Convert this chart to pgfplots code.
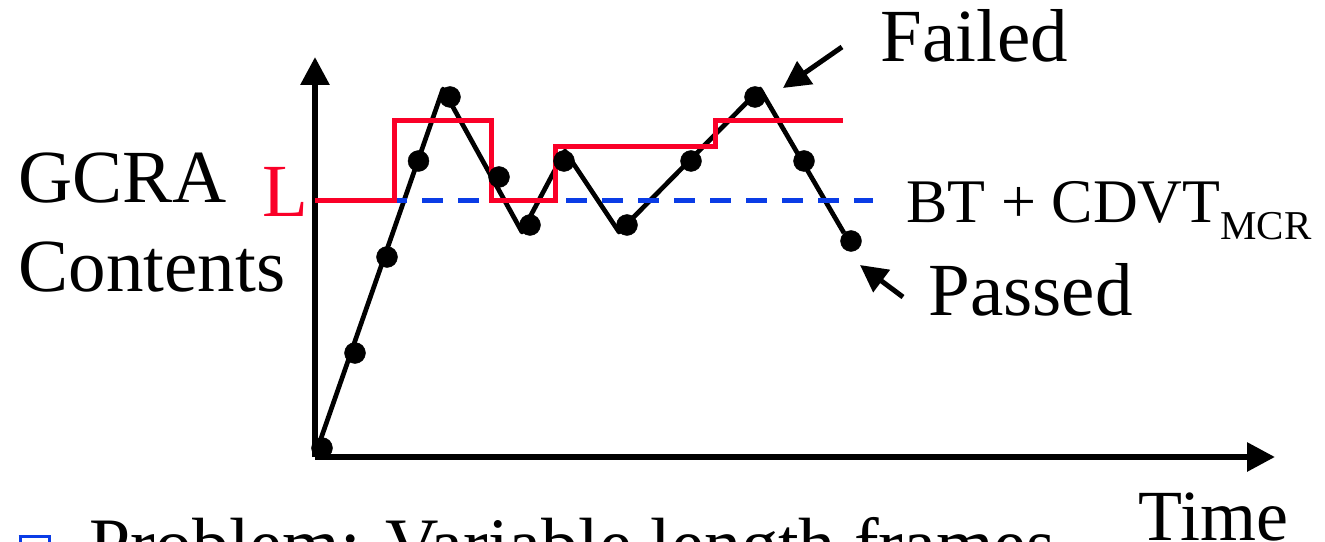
\documentclass[border=0pt]{standalone}
\usepackage{pgfplots}
\pgfplotsset{compat=1.18}
\usepackage{fontspec}
\setmainfont{Liberation Serif}
\usetikzlibrary{arrows.meta}
\definecolor{gred}{RGB}{250,0,40}
\definecolor{gblue}{RGB}{10,60,230}
\begin{document}
\begin{tikzpicture}
\useasboundingbox (0,0) rectangle (1325pt,541pt);
\clip (0,0) rectangle (1325pt,541pt);
\begin{axis}[
  at={(315pt,84pt)}, anchor=origin,
  x=1pt, y=1pt,
  xmin=0, xmax=960, ymin=0, ymax=400,
  axis lines=left,
  axis line style={line width=6pt, -{Triangle[length=28pt,width=28pt]}},
  xtick=\empty, ytick=\empty,
  clip=false,
  every node/.style={inner sep=0pt, outer sep=0pt},
]
% GCRA contents
\addplot[black, line width=4.7pt, line join=round] coordinates {
  (3,10) (128,368) (207,225) (250,306) (304,225) (445,368) (529,224)
};
\addplot[only marks, mark=*, mark size=10.5pt, black] coordinates {
  (7,9) (40,104) (72,200) (103.5,296) (135,360) (184,280) (215,232)
  (249,296) (312,232) (376,296) (440,360) (489,296) (536,216)
};
% BT + CDVT level
\addplot[gblue, line width=5pt, dash pattern=on 21pt off 15pt] coordinates {
  (71,256) (558,256)
};
% Limit L (step)
\addplot[gred, line width=5pt, line join=miter] coordinates {
  (0,256) (79,256) (79,336) (176,336) (176,256) (240,256) (240,310)
  (400,310) (400,336) (528,336)
};
% pointer arrows
\addplot[black, line width=5pt, -{Triangle[length=27pt,width=27pt]}] coordinates {
  (527,410) (468,369)
};
\addplot[black, line width=5pt, -{Triangle[length=27pt,width=27pt]}] coordinates {
  (588,160) (545,192)
};
% texts
\node[anchor=base west] at (axis cs:-300,254) {\fontsize{75}{90}\selectfont GCRA};
\node[anchor=base west] at (axis cs:-300,165) {\fontsize{75}{90}\selectfont Contents};
\node[anchor=base east, text=gred] at (axis cs:-3,240) {\fontsize{75}{90}\selectfont L};
\node[anchor=base west] at (axis cs:562,395) {\fontsize{75}{90}\selectfont Failed};
\node[anchor=base west] at (axis cs:588,234) {\fontsize{62}{70}\selectfont BT + CDVT\raisebox{-17pt}{\fontsize{41}{45}\selectfont MCR}};
\node[anchor=base west] at (axis cs:610,142) {\fontsize{75}{90}\selectfont Passed};
\node[anchor=base west] at (axis cs:820,-83) {\fontsize{72}{86}\selectfont Time};
\node[anchor=north west] at (axis cs:-300,-74) {\color{gblue}\setlength\fboxrule{3pt}\setlength\fboxsep{0pt}\fbox{\hspace{26pt}\rule{0pt}{26pt}}};
\node[anchor=base west] at (axis cs:-229,-112) {\fontsize{74}{88}\selectfont Problem: Variable length frames};
\end{axis}
\end{tikzpicture}
\end{document}
